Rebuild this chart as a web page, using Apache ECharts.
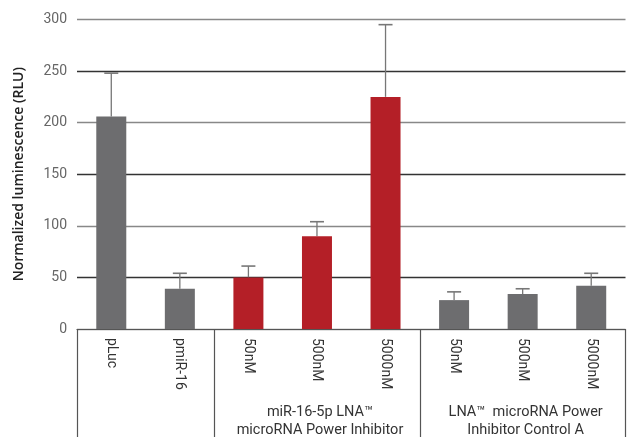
<!DOCTYPE html>
<html><head><meta charset="utf-8">
<script src="https://cdn.jsdelivr.net/npm/echarts@6/dist/echarts.min.js"></script>
<style>html,body{margin:0;padding:0;background:#fff}#c{width:627px;height:439px}</style>
</head><body><div id="c"></div>
<script>
const categories = ['pLuc', 'pmiR-16', '50nM', '500nM', '5000nM', '50nM', '500nM', '5000nM'];
const values = [206, 39, 50, 90, 225, 28, 34, 42];
const errorHigh = [248, 54, 61, 104, 295, 36, 39, 54];
const groupIndex = [0, 0, 1, 1, 1, 2, 2, 2];
const groupLabels = ['', 'miR-16-5p LNA™\nmicroRNA Power Inhibitor', 'LNA™  microRNA Power\nInhibitor Control A'];
const yTicks = [0, 50, 100, 150, 200, 250, 300];

const GRAY = '#6d6d6f', RED = '#b41f27';
const chart = echarts.init(document.getElementById('c'), null, {renderer: 'canvas'});
const font = 'Roboto, "DejaVu Sans", sans-serif';

const option = {
  animation: false,
  grid: {left: 77, right: 1.5, top: 19.5, bottom: 110, containLabel: false},
  xAxis: {
    type: 'category', data: categories,
    axisLine: {lineStyle: {color: '#555', width: 1.2}},
    axisTick: {
      show: true, length: 108, lineStyle: {color: '#555', width: 1.2},
      interval: function (i) { return i === 0 || i === 2 || i === 5 || i === 8; }
    },
    axisLabel: {rotate: -90, fontSize: 14, color: '#333', fontFamily: font, margin: 9, interval: 0}
  },
  yAxis: {
    type: 'value', min: 0, max: 300, interval: 50,
    name: 'Normalized luminescence (RLU)', nameLocation: 'middle', nameGap: 51,
    nameTextStyle: {fontSize: 14, color: '#222', fontWeight: 600, fontFamily: '"Open Sans", sans-serif'},
    axisLine: {show: false}, axisTick: {show: false},
    axisLabel: {fontSize: 14, color: '#666', fontFamily: font, margin: 10},
    splitLine: {lineStyle: {color: ['#888', '#333'], width: 1.4}}
  },
  series: [
    {
      type: 'custom', z: 1,
      data: values.map((v, i) => [i, v, errorHigh[i]]),
      renderItem: function (params, api) {
        const top = api.coord([api.value(0), api.value(2)]);
        const base = api.coord([api.value(0), api.value(1)]);
        const hw = 7;
        return {
          type: 'group',
          children: [
            {type: 'line', shape: {x1: top[0], y1: top[1], x2: base[0], y2: base[1]}, style: {stroke: '#777', lineWidth: 1.3}},
            {type: 'line', shape: {x1: top[0] - hw, y1: top[1], x2: top[0] + hw, y2: top[1]}, style: {stroke: '#777', lineWidth: 1.6}}
          ]
        };
      }
    },
    {
      type: 'bar', z: 2, barWidth: 30,
      data: values.map((v, i) => ({value: v, itemStyle: {color: groupIndex[i] === 1 ? RED : GRAY}}))
    }
  ]
};
chart.setOption(option);

const graphics = [];
[1, 2].forEach(g => {
  const idx = groupIndex.map((x, i) => x === g ? i : -1).filter(i => i >= 0);
  const x0 = chart.convertToPixel({xAxisIndex: 0}, idx[0]);
  const x1 = chart.convertToPixel({xAxisIndex: 0}, idx[idx.length - 1]);
  const cx = (x0 + x1) / 2 + 3;
  graphics.push({
    type: 'text', x: cx, y: 403,
    style: {text: groupLabels[g], align: 'center', verticalAlign: 'top', lineHeight: 18, fill: '#333', font: '14.5px ' + font}
  });
});
chart.setOption({graphic: graphics});
</script></body></html>
